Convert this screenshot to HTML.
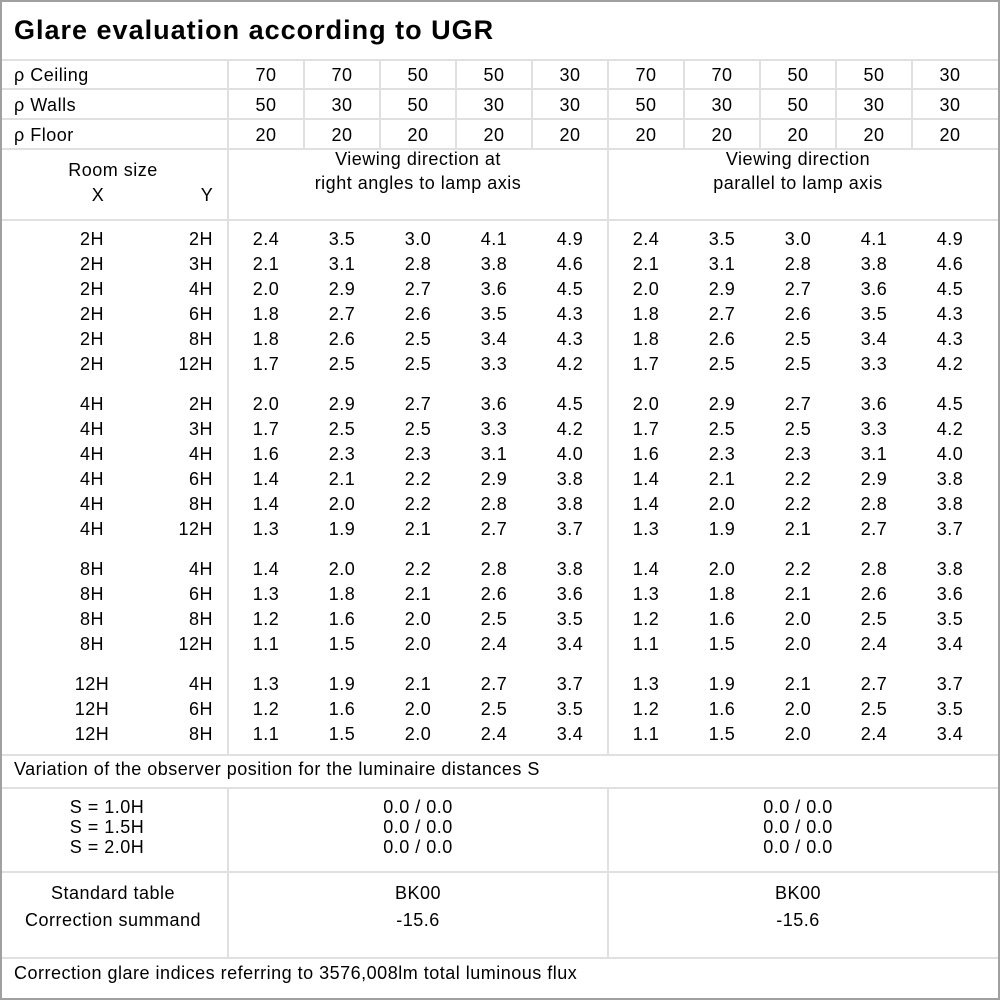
<!DOCTYPE html>
<html><head><style>
html,body{margin:0;padding:0;background:#fff}
svg{display:block}
text{font-family:"Liberation Sans","DejaVu Sans",sans-serif;font-size:18px;fill:#000;letter-spacing:0.5px}
</style></head><body>
<svg width="1000" height="1000" xmlns="http://www.w3.org/2000/svg">
<rect x="0" y="0" width="1000" height="1000" fill="#fff"/>
<g stroke="#e0e0e0" stroke-width="2">
<line x1="0" y1="60" x2="1000" y2="60"/>
<line x1="0" y1="89" x2="1000" y2="89"/>
<line x1="0" y1="119" x2="1000" y2="119"/>
<line x1="0" y1="149" x2="1000" y2="149"/>
<line x1="0" y1="220" x2="1000" y2="220"/>
<line x1="0" y1="755" x2="1000" y2="755"/>
<line x1="0" y1="788" x2="1000" y2="788"/>
<line x1="0" y1="872" x2="1000" y2="872"/>
<line x1="0" y1="958" x2="1000" y2="958"/>
<line x1="228" y1="60" x2="228" y2="755"/>
<line x1="228" y1="788" x2="228" y2="958"/>
<line x1="608" y1="60" x2="608" y2="755"/>
<line x1="608" y1="788" x2="608" y2="958"/>
<line x1="304" y1="60" x2="304" y2="149"/>
<line x1="380" y1="60" x2="380" y2="149"/>
<line x1="456" y1="60" x2="456" y2="149"/>
<line x1="532" y1="60" x2="532" y2="149"/>
<line x1="684" y1="60" x2="684" y2="149"/>
<line x1="760" y1="60" x2="760" y2="149"/>
<line x1="836" y1="60" x2="836" y2="149"/>
<line x1="912" y1="60" x2="912" y2="149"/>
</g>
<rect x="1" y="1" width="998" height="998" fill="none" stroke="#a0a0a0" stroke-width="2"/>
<text x="14" y="39" style="font-size:27px;font-weight:bold;letter-spacing:1px">Glare evaluation according to UGR</text>
<text x="14" y="81">ρ Ceiling</text>
<text x="14" y="111">ρ Walls</text>
<text x="14" y="141">ρ Floor</text>
<g id="refl"></g>
<text text-anchor="middle" x="113" y="176">Room size</text>
<text text-anchor="middle" x="98" y="201">X</text>
<text text-anchor="middle" x="207" y="201">Y</text>
<text text-anchor="middle" x="418" y="165">Viewing direction at</text>
<text text-anchor="middle" x="418" y="189">right angles to lamp axis</text>
<text text-anchor="middle" x="798" y="165">Viewing direction</text>
<text text-anchor="middle" x="798" y="189">parallel to lamp axis</text>
<g id="data"></g>
<text x="14" y="775">Variation of the observer position for the luminaire distances S</text>
<text text-anchor="middle" x="107" y="813">S = 1.0H</text>
<text text-anchor="middle" x="107" y="833">S = 1.5H</text>
<text text-anchor="middle" x="107" y="853">S = 2.0H</text>
<text text-anchor="middle" x="418" y="813">0.0 / 0.0</text>
<text text-anchor="middle" x="418" y="833">0.0 / 0.0</text>
<text text-anchor="middle" x="418" y="853">0.0 / 0.0</text>
<text text-anchor="middle" x="798" y="813">0.0 / 0.0</text>
<text text-anchor="middle" x="798" y="833">0.0 / 0.0</text>
<text text-anchor="middle" x="798" y="853">0.0 / 0.0</text>
<text text-anchor="middle" x="113" y="899">Standard table</text>
<text text-anchor="middle" x="113" y="926">Correction summand</text>
<text text-anchor="middle" x="418" y="899">BK00</text>
<text text-anchor="middle" x="418" y="926">-15.6</text>
<text text-anchor="middle" x="798" y="899">BK00</text>
<text text-anchor="middle" x="798" y="926">-15.6</text>
<text x="14" y="979">Correction glare indices referring to 3576,008lm total luminous flux</text>
</svg>
<script>
var NS="http://www.w3.org/2000/svg";
function t(g,x,y,s,anchor){var e=document.createElementNS(NS,"text");e.setAttribute("x",x);e.setAttribute("y",y);e.setAttribute("text-anchor",anchor||"middle");e.textContent=s;g.appendChild(e);}
var cx=[266,342,418,494,570,646,722,798,874,950];
var refl=document.getElementById("refl");
var R=[["70","70","50","50","30"],["50","30","50","30","30"],["20","20","20","20","20"]];
for(var r=0;r<3;r++)for(var c=0;c<10;c++)t(refl,cx[c],81+r*30,R[r][c%5]);
var D=[
[239,"2H","2H","2.4 3.5 3.0 4.1 4.9"],[264,"2H","3H","2.1 3.1 2.8 3.8 4.6"],[289,"2H","4H","2.0 2.9 2.7 3.6 4.5"],[314,"2H","6H","1.8 2.7 2.6 3.5 4.3"],[339,"2H","8H","1.8 2.6 2.5 3.4 4.3"],[364,"2H","12H","1.7 2.5 2.5 3.3 4.2"],
[404,"4H","2H","2.0 2.9 2.7 3.6 4.5"],[429,"4H","3H","1.7 2.5 2.5 3.3 4.2"],[454,"4H","4H","1.6 2.3 2.3 3.1 4.0"],[479,"4H","6H","1.4 2.1 2.2 2.9 3.8"],[504,"4H","8H","1.4 2.0 2.2 2.8 3.8"],[529,"4H","12H","1.3 1.9 2.1 2.7 3.7"],
[569,"8H","4H","1.4 2.0 2.2 2.8 3.8"],[594,"8H","6H","1.3 1.8 2.1 2.6 3.6"],[619,"8H","8H","1.2 1.6 2.0 2.5 3.5"],[644,"8H","12H","1.1 1.5 2.0 2.4 3.4"],
[684,"12H","4H","1.3 1.9 2.1 2.7 3.7"],[709,"12H","6H","1.2 1.6 2.0 2.5 3.5"],[734,"12H","8H","1.1 1.5 2.0 2.4 3.4"]];
var g=document.getElementById("data");
D.forEach(function(d){var y=d[0]+6;t(g,92,y,d[1]);t(g,213,y,d[2],"end");var v=d[3].split(" ");for(var c=0;c<10;c++)t(g,cx[c],y,v[c%5]);});
</script>
</body></html>
